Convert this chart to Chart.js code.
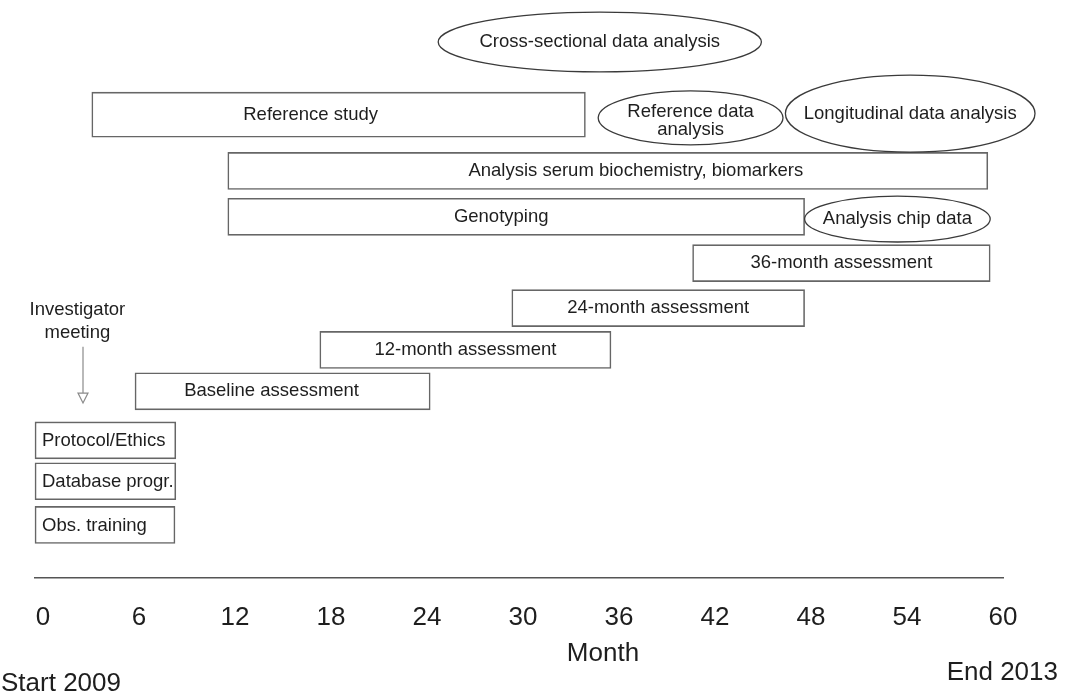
<!DOCTYPE html>
<html>
<head>
<meta charset="utf-8">
<script src="https://cdn.jsdelivr.net/npm/chart.js@4.4.0/dist/chart.umd.min.js"></script>
<style>
  html, body { margin: 0; padding: 0; background: #fff; }
  #wrap { width: 1070px; height: 697px; }
</style>
</head>
<body>
<div id="wrap"><canvas id="chart"></canvas></div>
<script>
// tasks drawn as boxes (months from start of study)
var taskNames = ['Reference study', 'Analysis serum biochemistry, biomarkers', 'Genotyping',
  '36-month assessment', '24-month assessment', '12-month assessment', 'Baseline assessment',
  'Protocol/Ethics', 'Database progr.', 'Obs. training'];
var taskStart = [3.05, 11.55, 11.55, 40.6, 29.3, 17.3, 5.75, -0.5, -0.5, -0.5];
var taskEnd   = [33.9, 59.05, 47.6, 59.2, 47.6, 35.5, 24.2, 8.3, 8.3, 8.25];
var taskLane  = [2.55, 3.80, 4.82, 5.85, 6.85, 7.78, 8.70, 9.79, 10.70, 11.67];

// analyses drawn as ellipses
var analysisNames = ['Cross-sectional data analysis', 'Reference data\nanalysis',
  'Longitudinal data analysis', 'Analysis chip data'];
var analysisStart = [24.7, 34.7, 46.4, 47.6];
var analysisEnd   = [44.9, 46.25, 62.0, 59.2];
var analysisTop   = [0.27, 2.02, 1.67, 4.36];
var analysisBottom = [1.60, 3.22, 3.38, 5.38];

var monthTicks = [0, 6, 12, 18, 24, 30, 36, 42, 48, 54, 60];

var FONT = '"Liberation Sans", Arial, sans-serif';
var TEXT = '#1e1e1e';

function boxData(idx) {
  return taskNames.map(function (n, i) {
    return idx.indexOf(i) >= 0 ? { x: [taskStart[i], taskEnd[i]], y: taskLane[i] } : null;
  }).filter(function (d) { return d; });
}

// label tweaks (text is not exactly centred in the original)
var labelShift = { 'Reference study': -28, 'Analysis serum biochemistry, biomarkers': 28,
  'Genotyping': -15, 'Baseline assessment': -11 };
var leftLabels = ['Protocol/Ethics', 'Database progr.', 'Obs. training'];

var annotations = {
  id: 'annotations',
  afterDatasetsDraw: function (chart) {
    var ctx = chart.ctx;
    var xs = chart.scales.x, ys = chart.scales.y;
    ctx.save();

    // box labels
    ctx.fillStyle = TEXT;
    ctx.font = '18.5px ' + FONT;
    ctx.textBaseline = 'middle';
    chart.data.datasets.forEach(function (ds, di) {
      var meta = chart.getDatasetMeta(di);
      meta.data.forEach(function (el, j) {
        var name = ds.names[j];
        if (leftLabels.indexOf(name) >= 0) {
          ctx.textAlign = 'left';
          ctx.fillText(name, el.base + 7, el.y + 1);
        } else {
          ctx.textAlign = 'center';
          ctx.fillText(name, (el.x + el.base) / 2 + (labelShift[name] || 0), el.y);
        }
      });
    });

    // ellipses
    for (var i = 0; i < analysisNames.length; i++) {
      var x0 = xs.getPixelForValue(analysisStart[i]);
      var x1 = xs.getPixelForValue(analysisEnd[i]);
      var y0 = ys.getPixelForValue(analysisTop[i]);
      var y1 = ys.getPixelForValue(analysisBottom[i]);
      var cx = (x0 + x1) / 2, cy = (y0 + y1) / 2;
      ctx.beginPath();
      ctx.ellipse(cx, cy, (x1 - x0) / 2, (y1 - y0) / 2, 0, 0, Math.PI * 2);
      ctx.fillStyle = '#fff';
      ctx.fill();
      ctx.strokeStyle = '#3a3a3a';
      ctx.lineWidth = 1.3;
      ctx.stroke();
      ctx.fillStyle = TEXT;
      ctx.textAlign = 'center';
      var lines = analysisNames[i].split('\n');
      var lh = 18;
      var dy = lines.length > 1 ? 3 : 0;
      lines.forEach(function (t, k) {
        ctx.fillText(t, cx, cy + dy + (k - (lines.length - 1) / 2) * lh);
      });
    }

    // investigator meeting with arrow
    var ax = xs.getPixelForValue(2.5);
    ctx.fillText('Investigator', xs.getPixelForValue(2.15), ys.getPixelForValue(6.89));
    ctx.fillText('meeting', xs.getPixelForValue(2.15), ys.getPixelForValue(7.40));
    var ay0 = ys.getPixelForValue(7.71), ay1 = ys.getPixelForValue(8.96);
    ctx.strokeStyle = '#8a8a8a';
    ctx.lineWidth = 1.2;
    ctx.beginPath();
    ctx.moveTo(ax, ay0);
    ctx.lineTo(ax, ay1 - 10);
    ctx.stroke();
    ctx.beginPath();
    ctx.moveTo(ax - 5, ay1 - 10);
    ctx.lineTo(ax + 5, ay1 - 10);
    ctx.lineTo(ax, ay1);
    ctx.closePath();
    ctx.stroke();

    // axis texts
    var bottom = chart.chartArea.bottom;
    ctx.fillStyle = TEXT;
    ctx.font = '26px ' + FONT;
    ctx.textAlign = 'center';
    ctx.fillText('Month', xs.getPixelForValue(35), bottom + 76);
    ctx.textAlign = 'left';
    ctx.fillText('Start 2009', 1, bottom + 106);
    ctx.textAlign = 'right';
    ctx.fillText('End 2013', 1058, bottom + 95);
    ctx.restore();
  }
};

var ctx = document.getElementById('chart').getContext('2d');
var chart = new Chart(ctx, {
  type: 'bar',
  data: {
    datasets: [{
      data: boxData([0]),
      names: [taskNames[0]],
      barThickness: 45
    }, {
      data: boxData([1, 2, 3, 4, 5, 6, 7, 8, 9]),
      names: taskNames.slice(1),
      barThickness: 37
    }].map(function (d) {
      d.backgroundColor = '#fff';
      d.borderColor = '#666';
      d.borderWidth = 1.6;
      d.borderSkipped = false;
      d.grouped = false;
      d.clip = false;
      return d;
    })
  },
  options: {
    indexAxis: 'y',
    responsive: true,
    maintainAspectRatio: false,
    animation: false,
    layout: { padding: { left: 35, right: 67, top: 0, bottom: 0 } },
    plugins: { legend: { display: false }, tooltip: { enabled: false } },
    scales: {
      y: { type: 'linear', min: 0, max: 12.85, reverse: true, offset: false, display: false },
      x: {
        type: 'linear',
        min: -0.5,
        max: 60,
        afterBuildTicks: function (scale) {
          scale.ticks = monthTicks.map(function (v) { return { value: v }; });
        },
        afterFit: function (scale) { scale.height = 697 - 578; },
        grid: { display: false, drawTicks: false },
        border: { display: true, color: '#555', width: 1.5 },
        ticks: {
          padding: 24,
          maxRotation: 0,
          autoSkip: false,
          color: TEXT,
          font: { size: 26, family: FONT }
        }
      }
    }
  },
  plugins: [annotations]
});
</script>
</body>
</html>
